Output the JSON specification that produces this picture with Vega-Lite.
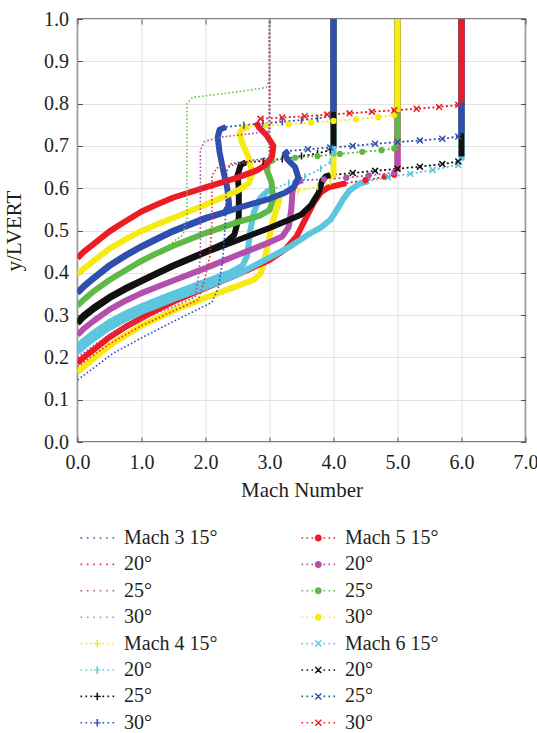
{
  "$schema": "https://vega.github.io/schema/vega-lite/v6.json",
  "width": 448,
  "height": 423,
  "autosize": {"type": "none"},
  "padding": {"left": 77.5, "top": 19, "right": 11.5, "bottom": 291},
  "background": "white",
  "config": {
    "font": "Liberation Serif",
    "view": {"stroke": "#555555", "strokeWidth": 1.5},
    "axis": {"labelFont": "Liberation Serif", "titleFont": "Liberation Serif", "labelColor": "#231f20", "titleColor": "#231f20", "tickColor": "#555555", "gridColor": "#e3e3e3", "domain": false, "labelFlush": false, "labelOverlap": false}
  },
  "data": {"values": [
    {"s":"Mach 4 15°","m":4,"p":"a","x":0,"y":0.165},{"s":"Mach 4 15°","m":4,"p":"a","x":0.1,"y":0.178},{"s":"Mach 4 15°","m":4,"p":"a","x":0.25,"y":0.197},{"s":"Mach 4 15°","m":4,"p":"a","x":0.5,"y":0.228},{"s":"Mach 4 15°","m":4,"p":"a","x":0.75,"y":0.252},{"s":"Mach 4 15°","m":4,"p":"a","x":1.0,"y":0.275},{"s":"Mach 4 15°","m":4,"p":"a","x":1.25,"y":0.293},{"s":"Mach 4 15°","m":4,"p":"a","x":1.5,"y":0.311},{"s":"Mach 4 15°","m":4,"p":"a","x":2.0,"y":0.341},{"s":"Mach 4 15°","m":4,"p":"a","x":2.5,"y":0.369},{"s":"Mach 4 15°","m":4,"p":"a","x":2.75,"y":0.383},{"s":"Mach 4 15°","m":4,"p":"a","x":2.86,"y":0.398},{"s":"Mach 4 15°","m":4,"p":"a","x":2.92,"y":0.425},{"s":"Mach 4 15°","m":4,"p":"a","x":2.96,"y":0.46},{"s":"Mach 4 15°","m":4,"p":"a","x":3.05,"y":0.52},{"s":"Mach 4 15°","m":4,"p":"a","x":3.13,"y":0.56},{"s":"Mach 4 15°","m":4,"p":"a","x":3.17,"y":0.585},
    {"s":"Mach 4 15°","m":4,"p":"s","x":3.45,"y":0.594},{"s":"Mach 4 15°","m":4,"p":"s","x":3.75,"y":0.604},{"s":"Mach 4 15°","m":4,"p":"s","x":3.95,"y":0.615},
    {"s":"Mach 4 15°","m":4,"p":"b","x":4.0,"y":0.625},{"s":"Mach 4 15°","m":4,"p":"b","x":4.0,"y":1.0},

    {"s":"Mach 5 15°","m":5,"p":"a","x":0,"y":0.187},{"s":"Mach 5 15°","m":5,"p":"a","x":0.1,"y":0.2},{"s":"Mach 5 15°","m":5,"p":"a","x":0.25,"y":0.218},{"s":"Mach 5 15°","m":5,"p":"a","x":0.5,"y":0.248},{"s":"Mach 5 15°","m":5,"p":"a","x":0.75,"y":0.272},{"s":"Mach 5 15°","m":5,"p":"a","x":1.0,"y":0.293},{"s":"Mach 5 15°","m":5,"p":"a","x":1.25,"y":0.313},{"s":"Mach 5 15°","m":5,"p":"a","x":1.5,"y":0.332},{"s":"Mach 5 15°","m":5,"p":"a","x":2.0,"y":0.364},{"s":"Mach 5 15°","m":5,"p":"a","x":2.5,"y":0.396},{"s":"Mach 5 15°","m":5,"p":"a","x":3.0,"y":0.43},{"s":"Mach 5 15°","m":5,"p":"a","x":3.25,"y":0.456},{"s":"Mach 5 15°","m":5,"p":"a","x":3.42,"y":0.485},{"s":"Mach 5 15°","m":5,"p":"a","x":3.58,"y":0.533},{"s":"Mach 5 15°","m":5,"p":"a","x":3.7,"y":0.568},{"s":"Mach 5 15°","m":5,"p":"a","x":3.8,"y":0.59},{"s":"Mach 5 15°","m":5,"p":"a","x":3.92,"y":0.602},{"s":"Mach 5 15°","m":5,"p":"a","x":4.2,"y":0.612},
    {"s":"Mach 5 15°","m":5,"p":"s","x":4.5,"y":0.619},{"s":"Mach 5 15°","m":5,"p":"s","x":4.8,"y":0.627},{"s":"Mach 5 15°","m":5,"p":"s","x":4.95,"y":0.632},
    {"s":"Mach 5 15°","m":5,"p":"b","x":5.0,"y":0.64},{"s":"Mach 5 15°","m":5,"p":"b","x":5.0,"y":1.0},

    {"s":"Mach 6 15°","m":6,"p":"a","x":0,"y":0.212},{"s":"Mach 6 15°","m":6,"p":"a","x":0.1,"y":0.226},{"s":"Mach 6 15°","m":6,"p":"a","x":0.25,"y":0.244},{"s":"Mach 6 15°","m":6,"p":"a","x":0.5,"y":0.27},{"s":"Mach 6 15°","m":6,"p":"a","x":0.75,"y":0.29},{"s":"Mach 6 15°","m":6,"p":"a","x":1.0,"y":0.308},{"s":"Mach 6 15°","m":6,"p":"a","x":1.25,"y":0.323},{"s":"Mach 6 15°","m":6,"p":"a","x":1.5,"y":0.338},{"s":"Mach 6 15°","m":6,"p":"a","x":2.0,"y":0.366},{"s":"Mach 6 15°","m":6,"p":"a","x":2.5,"y":0.396},{"s":"Mach 6 15°","m":6,"p":"a","x":3.0,"y":0.436},{"s":"Mach 6 15°","m":6,"p":"a","x":3.3,"y":0.46},{"s":"Mach 6 15°","m":6,"p":"a","x":3.6,"y":0.49},{"s":"Mach 6 15°","m":6,"p":"a","x":3.8,"y":0.507},{"s":"Mach 6 15°","m":6,"p":"a","x":3.95,"y":0.525},{"s":"Mach 6 15°","m":6,"p":"a","x":4.05,"y":0.548},{"s":"Mach 6 15°","m":6,"p":"a","x":4.15,"y":0.574},{"s":"Mach 6 15°","m":6,"p":"a","x":4.26,"y":0.596},{"s":"Mach 6 15°","m":6,"p":"a","x":4.4,"y":0.61},{"s":"Mach 6 15°","m":6,"p":"a","x":4.55,"y":0.617},
    {"s":"Mach 6 15°","m":6,"p":"s","x":4.85,"y":0.626},{"s":"Mach 6 15°","m":6,"p":"s","x":5.2,"y":0.634},{"s":"Mach 6 15°","m":6,"p":"s","x":5.55,"y":0.643},{"s":"Mach 6 15°","m":6,"p":"s","x":5.95,"y":0.655},
    {"s":"Mach 6 15°","m":6,"p":"b","x":6.0,"y":0.665},{"s":"Mach 6 15°","m":6,"p":"b","x":6.0,"y":1.0},

    {"s":"Mach 4 20°","m":4,"p":"a","x":0,"y":0.225},{"s":"Mach 4 20°","m":4,"p":"a","x":0.1,"y":0.24},{"s":"Mach 4 20°","m":4,"p":"a","x":0.25,"y":0.258},{"s":"Mach 4 20°","m":4,"p":"a","x":0.5,"y":0.284},{"s":"Mach 4 20°","m":4,"p":"a","x":0.75,"y":0.304},{"s":"Mach 4 20°","m":4,"p":"a","x":1.0,"y":0.321},{"s":"Mach 4 20°","m":4,"p":"a","x":1.25,"y":0.336},{"s":"Mach 4 20°","m":4,"p":"a","x":1.5,"y":0.351},{"s":"Mach 4 20°","m":4,"p":"a","x":2.0,"y":0.379},{"s":"Mach 4 20°","m":4,"p":"a","x":2.4,"y":0.402},{"s":"Mach 4 20°","m":4,"p":"a","x":2.58,"y":0.417},{"s":"Mach 4 20°","m":4,"p":"a","x":2.65,"y":0.44},{"s":"Mach 4 20°","m":4,"p":"a","x":2.7,"y":0.5},{"s":"Mach 4 20°","m":4,"p":"a","x":2.76,"y":0.545},{"s":"Mach 4 20°","m":4,"p":"a","x":2.85,"y":0.576},{"s":"Mach 4 20°","m":4,"p":"a","x":2.96,"y":0.592},{"s":"Mach 4 20°","m":4,"p":"a","x":3.05,"y":0.598},
    {"s":"Mach 4 20°","m":4,"p":"s","x":3.3,"y":0.612},{"s":"Mach 4 20°","m":4,"p":"s","x":3.55,"y":0.627},{"s":"Mach 4 20°","m":4,"p":"s","x":3.8,"y":0.646},{"s":"Mach 4 20°","m":4,"p":"s","x":3.95,"y":0.663},
    {"s":"Mach 4 20°","m":4,"p":"b","x":4.0,"y":0.675},{"s":"Mach 4 20°","m":4,"p":"b","x":4.0,"y":1.0},

    {"s":"Mach 5 20°","m":5,"p":"a","x":0,"y":0.253},{"s":"Mach 5 20°","m":5,"p":"a","x":0.1,"y":0.268},{"s":"Mach 5 20°","m":5,"p":"a","x":0.25,"y":0.286},{"s":"Mach 5 20°","m":5,"p":"a","x":0.5,"y":0.313},{"s":"Mach 5 20°","m":5,"p":"a","x":0.75,"y":0.334},{"s":"Mach 5 20°","m":5,"p":"a","x":1.0,"y":0.352},{"s":"Mach 5 20°","m":5,"p":"a","x":1.25,"y":0.367},{"s":"Mach 5 20°","m":5,"p":"a","x":1.5,"y":0.382},{"s":"Mach 5 20°","m":5,"p":"a","x":2.0,"y":0.411},{"s":"Mach 5 20°","m":5,"p":"a","x":2.5,"y":0.442},{"s":"Mach 5 20°","m":5,"p":"a","x":3.0,"y":0.472},{"s":"Mach 5 20°","m":5,"p":"a","x":3.2,"y":0.486},{"s":"Mach 5 20°","m":5,"p":"a","x":3.3,"y":0.508},{"s":"Mach 5 20°","m":5,"p":"a","x":3.34,"y":0.55},{"s":"Mach 5 20°","m":5,"p":"a","x":3.36,"y":0.595},{"s":"Mach 5 20°","m":5,"p":"a","x":3.41,"y":0.613},{"s":"Mach 5 20°","m":5,"p":"a","x":3.52,"y":0.619},
    {"s":"Mach 5 20°","m":5,"p":"s","x":3.85,"y":0.621},{"s":"Mach 5 20°","m":5,"p":"s","x":4.2,"y":0.625},{"s":"Mach 5 20°","m":5,"p":"s","x":4.55,"y":0.63},{"s":"Mach 5 20°","m":5,"p":"s","x":4.95,"y":0.637},
    {"s":"Mach 5 20°","m":5,"p":"b","x":5.0,"y":0.65},{"s":"Mach 5 20°","m":5,"p":"b","x":5.0,"y":1.0},

    {"s":"Mach 6 20°","m":6,"p":"a","x":0,"y":0.28},{"s":"Mach 6 20°","m":6,"p":"a","x":0.1,"y":0.296},{"s":"Mach 6 20°","m":6,"p":"a","x":0.25,"y":0.314},{"s":"Mach 6 20°","m":6,"p":"a","x":0.5,"y":0.34},{"s":"Mach 6 20°","m":6,"p":"a","x":0.75,"y":0.361},{"s":"Mach 6 20°","m":6,"p":"a","x":1.0,"y":0.38},{"s":"Mach 6 20°","m":6,"p":"a","x":1.25,"y":0.398},{"s":"Mach 6 20°","m":6,"p":"a","x":1.5,"y":0.416},{"s":"Mach 6 20°","m":6,"p":"a","x":2.0,"y":0.448},{"s":"Mach 6 20°","m":6,"p":"a","x":2.5,"y":0.477},{"s":"Mach 6 20°","m":6,"p":"a","x":3.0,"y":0.506},{"s":"Mach 6 20°","m":6,"p":"a","x":3.3,"y":0.525},{"s":"Mach 6 20°","m":6,"p":"a","x":3.5,"y":0.538},{"s":"Mach 6 20°","m":6,"p":"a","x":3.65,"y":0.56},{"s":"Mach 6 20°","m":6,"p":"a","x":3.77,"y":0.59},{"s":"Mach 6 20°","m":6,"p":"a","x":3.82,"y":0.617},{"s":"Mach 6 20°","m":6,"p":"a","x":3.88,"y":0.628},{"s":"Mach 6 20°","m":6,"p":"a","x":3.95,"y":0.631},
    {"s":"Mach 6 20°","m":6,"p":"s","x":4.3,"y":0.636},{"s":"Mach 6 20°","m":6,"p":"s","x":4.65,"y":0.641},{"s":"Mach 6 20°","m":6,"p":"s","x":5.0,"y":0.646},{"s":"Mach 6 20°","m":6,"p":"s","x":5.35,"y":0.651},{"s":"Mach 6 20°","m":6,"p":"s","x":5.7,"y":0.657},{"s":"Mach 6 20°","m":6,"p":"s","x":5.95,"y":0.663},
    {"s":"Mach 6 20°","m":6,"p":"b","x":6.0,"y":0.675},{"s":"Mach 6 20°","m":6,"p":"b","x":6.0,"y":1.0},

    {"s":"Mach 4 25°","m":4,"p":"a","x":0,"y":0.284},{"s":"Mach 4 25°","m":4,"p":"a","x":0.1,"y":0.3},{"s":"Mach 4 25°","m":4,"p":"a","x":0.25,"y":0.318},{"s":"Mach 4 25°","m":4,"p":"a","x":0.5,"y":0.343},{"s":"Mach 4 25°","m":4,"p":"a","x":0.75,"y":0.364},{"s":"Mach 4 25°","m":4,"p":"a","x":1.0,"y":0.382},{"s":"Mach 4 25°","m":4,"p":"a","x":1.25,"y":0.4},{"s":"Mach 4 25°","m":4,"p":"a","x":1.5,"y":0.418},{"s":"Mach 4 25°","m":4,"p":"a","x":2.0,"y":0.45},{"s":"Mach 4 25°","m":4,"p":"a","x":2.3,"y":0.47},{"s":"Mach 4 25°","m":4,"p":"a","x":2.45,"y":0.49},{"s":"Mach 4 25°","m":4,"p":"a","x":2.52,"y":0.53},{"s":"Mach 4 25°","m":4,"p":"a","x":2.52,"y":0.6},{"s":"Mach 4 25°","m":4,"p":"a","x":2.5,"y":0.63},{"s":"Mach 4 25°","m":4,"p":"a","x":2.55,"y":0.655},{"s":"Mach 4 25°","m":4,"p":"a","x":2.63,"y":0.661},
    {"s":"Mach 4 25°","m":4,"p":"s","x":2.9,"y":0.664},{"s":"Mach 4 25°","m":4,"p":"s","x":3.2,"y":0.669},{"s":"Mach 4 25°","m":4,"p":"s","x":3.5,"y":0.676},{"s":"Mach 4 25°","m":4,"p":"s","x":3.75,"y":0.682},{"s":"Mach 4 25°","m":4,"p":"s","x":3.95,"y":0.69},
    {"s":"Mach 4 25°","m":4,"p":"b","x":4.0,"y":0.7},{"s":"Mach 4 25°","m":4,"p":"b","x":4.0,"y":1.0},

    {"s":"Mach 5 25°","m":5,"p":"a","x":0,"y":0.322},{"s":"Mach 5 25°","m":5,"p":"a","x":0.1,"y":0.337},{"s":"Mach 5 25°","m":5,"p":"a","x":0.25,"y":0.356},{"s":"Mach 5 25°","m":5,"p":"a","x":0.5,"y":0.383},{"s":"Mach 5 25°","m":5,"p":"a","x":0.75,"y":0.406},{"s":"Mach 5 25°","m":5,"p":"a","x":1.0,"y":0.428},{"s":"Mach 5 25°","m":5,"p":"a","x":1.25,"y":0.447},{"s":"Mach 5 25°","m":5,"p":"a","x":1.5,"y":0.464},{"s":"Mach 5 25°","m":5,"p":"a","x":2.0,"y":0.494},{"s":"Mach 5 25°","m":5,"p":"a","x":2.5,"y":0.52},{"s":"Mach 5 25°","m":5,"p":"a","x":2.85,"y":0.535},{"s":"Mach 5 25°","m":5,"p":"a","x":3.0,"y":0.548},{"s":"Mach 5 25°","m":5,"p":"a","x":3.06,"y":0.575},{"s":"Mach 5 25°","m":5,"p":"a","x":3.03,"y":0.615},{"s":"Mach 5 25°","m":5,"p":"a","x":2.96,"y":0.642},{"s":"Mach 5 25°","m":5,"p":"a","x":2.97,"y":0.661},{"s":"Mach 5 25°","m":5,"p":"a","x":3.08,"y":0.668},
    {"s":"Mach 5 25°","m":5,"p":"s","x":3.4,"y":0.672},{"s":"Mach 5 25°","m":5,"p":"s","x":3.75,"y":0.676},{"s":"Mach 5 25°","m":5,"p":"s","x":4.1,"y":0.681},{"s":"Mach 5 25°","m":5,"p":"s","x":4.45,"y":0.686},{"s":"Mach 5 25°","m":5,"p":"s","x":4.75,"y":0.69},{"s":"Mach 5 25°","m":5,"p":"s","x":4.95,"y":0.694},
    {"s":"Mach 5 25°","m":5,"p":"b","x":5.0,"y":0.7},{"s":"Mach 5 25°","m":5,"p":"b","x":5.0,"y":1.0},

    {"s":"Mach 6 25°","m":6,"p":"a","x":0,"y":0.352},{"s":"Mach 6 25°","m":6,"p":"a","x":0.1,"y":0.367},{"s":"Mach 6 25°","m":6,"p":"a","x":0.25,"y":0.386},{"s":"Mach 6 25°","m":6,"p":"a","x":0.5,"y":0.416},{"s":"Mach 6 25°","m":6,"p":"a","x":0.75,"y":0.44},{"s":"Mach 6 25°","m":6,"p":"a","x":1.0,"y":0.461},{"s":"Mach 6 25°","m":6,"p":"a","x":1.25,"y":0.48},{"s":"Mach 6 25°","m":6,"p":"a","x":1.5,"y":0.498},{"s":"Mach 6 25°","m":6,"p":"a","x":2.0,"y":0.528},{"s":"Mach 6 25°","m":6,"p":"a","x":2.5,"y":0.553},{"s":"Mach 6 25°","m":6,"p":"a","x":3.0,"y":0.575},{"s":"Mach 6 25°","m":6,"p":"a","x":3.25,"y":0.59},{"s":"Mach 6 25°","m":6,"p":"a","x":3.38,"y":0.603},{"s":"Mach 6 25°","m":6,"p":"a","x":3.45,"y":0.625},{"s":"Mach 6 25°","m":6,"p":"a","x":3.4,"y":0.65},{"s":"Mach 6 25°","m":6,"p":"a","x":3.28,"y":0.668},{"s":"Mach 6 25°","m":6,"p":"a","x":3.24,"y":0.681},{"s":"Mach 6 25°","m":6,"p":"a","x":3.3,"y":0.688},
    {"s":"Mach 6 25°","m":6,"p":"s","x":3.6,"y":0.692},{"s":"Mach 6 25°","m":6,"p":"s","x":3.95,"y":0.696},{"s":"Mach 6 25°","m":6,"p":"s","x":4.3,"y":0.7},{"s":"Mach 6 25°","m":6,"p":"s","x":4.65,"y":0.705},{"s":"Mach 6 25°","m":6,"p":"s","x":5.0,"y":0.709},{"s":"Mach 6 25°","m":6,"p":"s","x":5.35,"y":0.713},{"s":"Mach 6 25°","m":6,"p":"s","x":5.7,"y":0.717},{"s":"Mach 6 25°","m":6,"p":"s","x":5.95,"y":0.722},
    {"s":"Mach 6 25°","m":6,"p":"b","x":6.0,"y":0.73},{"s":"Mach 6 25°","m":6,"p":"b","x":6.0,"y":1.0},

    {"s":"Mach 4 30°","m":4,"p":"a","x":0,"y":0.354},{"s":"Mach 4 30°","m":4,"p":"a","x":0.1,"y":0.369},{"s":"Mach 4 30°","m":4,"p":"a","x":0.25,"y":0.388},{"s":"Mach 4 30°","m":4,"p":"a","x":0.5,"y":0.418},{"s":"Mach 4 30°","m":4,"p":"a","x":0.75,"y":0.442},{"s":"Mach 4 30°","m":4,"p":"a","x":1.0,"y":0.463},{"s":"Mach 4 30°","m":4,"p":"a","x":1.25,"y":0.482},{"s":"Mach 4 30°","m":4,"p":"a","x":1.5,"y":0.5},{"s":"Mach 4 30°","m":4,"p":"a","x":2.0,"y":0.53},{"s":"Mach 4 30°","m":4,"p":"a","x":2.3,"y":0.543},{"s":"Mach 4 30°","m":4,"p":"a","x":2.37,"y":0.56},{"s":"Mach 4 30°","m":4,"p":"a","x":2.34,"y":0.6},{"s":"Mach 4 30°","m":4,"p":"a","x":2.28,"y":0.64},{"s":"Mach 4 30°","m":4,"p":"a","x":2.22,"y":0.685},{"s":"Mach 4 30°","m":4,"p":"a","x":2.19,"y":0.72},{"s":"Mach 4 30°","m":4,"p":"a","x":2.22,"y":0.738},{"s":"Mach 4 30°","m":4,"p":"a","x":2.32,"y":0.745},
    {"s":"Mach 4 30°","m":4,"p":"s","x":2.6,"y":0.749},{"s":"Mach 4 30°","m":4,"p":"s","x":2.9,"y":0.753},{"s":"Mach 4 30°","m":4,"p":"s","x":3.2,"y":0.757},{"s":"Mach 4 30°","m":4,"p":"s","x":3.5,"y":0.761},{"s":"Mach 4 30°","m":4,"p":"s","x":3.75,"y":0.765},{"s":"Mach 4 30°","m":4,"p":"s","x":3.95,"y":0.77},
    {"s":"Mach 4 30°","m":4,"p":"b","x":4.0,"y":0.78},{"s":"Mach 4 30°","m":4,"p":"b","x":4.0,"y":1.0},

    {"s":"Mach 5 30°","m":5,"p":"a","x":0,"y":0.397},{"s":"Mach 5 30°","m":5,"p":"a","x":0.1,"y":0.41},{"s":"Mach 5 30°","m":5,"p":"a","x":0.25,"y":0.428},{"s":"Mach 5 30°","m":5,"p":"a","x":0.5,"y":0.457},{"s":"Mach 5 30°","m":5,"p":"a","x":0.75,"y":0.479},{"s":"Mach 5 30°","m":5,"p":"a","x":1.0,"y":0.499},{"s":"Mach 5 30°","m":5,"p":"a","x":1.25,"y":0.515},{"s":"Mach 5 30°","m":5,"p":"a","x":1.5,"y":0.53},{"s":"Mach 5 30°","m":5,"p":"a","x":2.0,"y":0.561},{"s":"Mach 5 30°","m":5,"p":"a","x":2.5,"y":0.594},{"s":"Mach 5 30°","m":5,"p":"a","x":2.68,"y":0.612},{"s":"Mach 5 30°","m":5,"p":"a","x":2.73,"y":0.635},{"s":"Mach 5 30°","m":5,"p":"a","x":2.68,"y":0.67},{"s":"Mach 5 30°","m":5,"p":"a","x":2.58,"y":0.705},{"s":"Mach 5 30°","m":5,"p":"a","x":2.53,"y":0.728},{"s":"Mach 5 30°","m":5,"p":"a","x":2.58,"y":0.741},{"s":"Mach 5 30°","m":5,"p":"a","x":2.68,"y":0.745},
    {"s":"Mach 5 30°","m":5,"p":"s","x":2.95,"y":0.748},{"s":"Mach 5 30°","m":5,"p":"s","x":3.3,"y":0.751},{"s":"Mach 5 30°","m":5,"p":"s","x":3.65,"y":0.755},{"s":"Mach 5 30°","m":5,"p":"s","x":4.0,"y":0.759},{"s":"Mach 5 30°","m":5,"p":"s","x":4.35,"y":0.763},{"s":"Mach 5 30°","m":5,"p":"s","x":4.7,"y":0.768},{"s":"Mach 5 30°","m":5,"p":"s","x":4.95,"y":0.773},
    {"s":"Mach 5 30°","m":5,"p":"b","x":5.0,"y":0.78},{"s":"Mach 5 30°","m":5,"p":"b","x":5.0,"y":1.0},

    {"s":"Mach 6 30°","m":6,"p":"a","x":0,"y":0.435},{"s":"Mach 6 30°","m":6,"p":"a","x":0.1,"y":0.45},{"s":"Mach 6 30°","m":6,"p":"a","x":0.25,"y":0.468},{"s":"Mach 6 30°","m":6,"p":"a","x":0.5,"y":0.498},{"s":"Mach 6 30°","m":6,"p":"a","x":0.75,"y":0.522},{"s":"Mach 6 30°","m":6,"p":"a","x":1.0,"y":0.545},{"s":"Mach 6 30°","m":6,"p":"a","x":1.25,"y":0.562},{"s":"Mach 6 30°","m":6,"p":"a","x":1.5,"y":0.578},{"s":"Mach 6 30°","m":6,"p":"a","x":2.0,"y":0.602},{"s":"Mach 6 30°","m":6,"p":"a","x":2.5,"y":0.625},{"s":"Mach 6 30°","m":6,"p":"a","x":2.8,"y":0.642},{"s":"Mach 6 30°","m":6,"p":"a","x":2.95,"y":0.656},{"s":"Mach 6 30°","m":6,"p":"a","x":3.04,"y":0.675},{"s":"Mach 6 30°","m":6,"p":"a","x":3.06,"y":0.7},{"s":"Mach 6 30°","m":6,"p":"a","x":2.96,"y":0.724},{"s":"Mach 6 30°","m":6,"p":"a","x":2.84,"y":0.743},{"s":"Mach 6 30°","m":6,"p":"a","x":2.79,"y":0.756},
    {"s":"Mach 6 30°","m":6,"p":"s","x":2.86,"y":0.764},{"s":"Mach 6 30°","m":6,"p":"s","x":3.2,"y":0.767},{"s":"Mach 6 30°","m":6,"p":"s","x":3.55,"y":0.77},{"s":"Mach 6 30°","m":6,"p":"s","x":3.9,"y":0.774},{"s":"Mach 6 30°","m":6,"p":"s","x":4.25,"y":0.777},{"s":"Mach 6 30°","m":6,"p":"s","x":4.6,"y":0.781},{"s":"Mach 6 30°","m":6,"p":"s","x":4.95,"y":0.784},{"s":"Mach 6 30°","m":6,"p":"s","x":5.3,"y":0.788},{"s":"Mach 6 30°","m":6,"p":"s","x":5.65,"y":0.792},{"s":"Mach 6 30°","m":6,"p":"s","x":5.95,"y":0.797},
    {"s":"Mach 6 30°","m":6,"p":"b","x":6.0,"y":0.803},{"s":"Mach 6 30°","m":6,"p":"b","x":6.0,"y":1.0},

    {"s":"Mach 3 15°","m":3,"p":"a","x":0,"y":0.147},{"s":"Mach 3 15°","m":3,"p":"a","x":0.1,"y":0.158},{"s":"Mach 3 15°","m":3,"p":"a","x":0.25,"y":0.175},{"s":"Mach 3 15°","m":3,"p":"a","x":0.56,"y":0.21},{"s":"Mach 3 15°","m":3,"p":"a","x":1.0,"y":0.246},{"s":"Mach 3 15°","m":3,"p":"a","x":1.5,"y":0.285},{"s":"Mach 3 15°","m":3,"p":"a","x":1.9,"y":0.315},{"s":"Mach 3 15°","m":3,"p":"a","x":2.1,"y":0.33},{"s":"Mach 3 15°","m":3,"p":"a","x":2.2,"y":0.365},{"s":"Mach 3 15°","m":3,"p":"a","x":2.27,"y":0.43},{"s":"Mach 3 15°","m":3,"p":"a","x":2.31,"y":0.52},{"s":"Mach 3 15°","m":3,"p":"a","x":2.33,"y":0.64},{"s":"Mach 3 15°","m":3,"p":"a","x":2.4,"y":0.658},{"s":"Mach 3 15°","m":3,"p":"a","x":2.7,"y":0.665},{"s":"Mach 3 15°","m":3,"p":"a","x":3.0,"y":0.672},{"s":"Mach 3 15°","m":3,"p":"a","x":3.0,"y":1.0},
    {"s":"Mach 3 20°","m":3,"p":"a","x":0,"y":0.178},{"s":"Mach 3 20°","m":3,"p":"a","x":0.25,"y":0.205},{"s":"Mach 3 20°","m":3,"p":"a","x":0.5,"y":0.232},{"s":"Mach 3 20°","m":3,"p":"a","x":1.0,"y":0.275},{"s":"Mach 3 20°","m":3,"p":"a","x":1.5,"y":0.31},{"s":"Mach 3 20°","m":3,"p":"a","x":1.89,"y":0.336},{"s":"Mach 3 20°","m":3,"p":"a","x":1.98,"y":0.38},{"s":"Mach 3 20°","m":3,"p":"a","x":2.07,"y":0.44},{"s":"Mach 3 20°","m":3,"p":"a","x":2.1,"y":0.52},{"s":"Mach 3 20°","m":3,"p":"a","x":2.1,"y":0.63},{"s":"Mach 3 20°","m":3,"p":"a","x":2.18,"y":0.648},{"s":"Mach 3 20°","m":3,"p":"a","x":2.6,"y":0.66},{"s":"Mach 3 20°","m":3,"p":"a","x":3.0,"y":0.668},{"s":"Mach 3 20°","m":3,"p":"a","x":3.0,"y":1.0},
    {"s":"Mach 3 25°","m":3,"p":"a","x":0,"y":0.2},{"s":"Mach 3 25°","m":3,"p":"a","x":0.25,"y":0.228},{"s":"Mach 3 25°","m":3,"p":"a","x":0.5,"y":0.254},{"s":"Mach 3 25°","m":3,"p":"a","x":1.0,"y":0.29},{"s":"Mach 3 25°","m":3,"p":"a","x":1.5,"y":0.32},{"s":"Mach 3 25°","m":3,"p":"a","x":1.84,"y":0.343},{"s":"Mach 3 25°","m":3,"p":"a","x":1.9,"y":0.4},{"s":"Mach 3 25°","m":3,"p":"a","x":1.92,"y":0.45},{"s":"Mach 3 25°","m":3,"p":"a","x":1.92,"y":0.69},{"s":"Mach 3 25°","m":3,"p":"a","x":1.98,"y":0.71},{"s":"Mach 3 25°","m":3,"p":"a","x":2.2,"y":0.72},{"s":"Mach 3 25°","m":3,"p":"a","x":2.6,"y":0.727},{"s":"Mach 3 25°","m":3,"p":"a","x":3.0,"y":0.735},{"s":"Mach 3 25°","m":3,"p":"a","x":3.0,"y":1.0},
    {"s":"Mach 3 30°","m":3,"p":"a","x":0,"y":0.32},{"s":"Mach 3 30°","m":3,"p":"a","x":0.25,"y":0.35},{"s":"Mach 3 30°","m":3,"p":"a","x":0.5,"y":0.378},{"s":"Mach 3 30°","m":3,"p":"a","x":1.0,"y":0.43},{"s":"Mach 3 30°","m":3,"p":"a","x":1.4,"y":0.463},{"s":"Mach 3 30°","m":3,"p":"a","x":1.65,"y":0.49},{"s":"Mach 3 30°","m":3,"p":"a","x":1.71,"y":0.53},{"s":"Mach 3 30°","m":3,"p":"a","x":1.71,"y":0.8},{"s":"Mach 3 30°","m":3,"p":"a","x":1.8,"y":0.815},{"s":"Mach 3 30°","m":3,"p":"a","x":2.2,"y":0.822},{"s":"Mach 3 30°","m":3,"p":"a","x":2.6,"y":0.83},{"s":"Mach 3 30°","m":3,"p":"a","x":2.95,"y":0.838},{"s":"Mach 3 30°","m":3,"p":"a","x":3.0,"y":0.858},{"s":"Mach 3 30°","m":3,"p":"a","x":3.0,"y":1.0}
  ]},
  "layer": [
    {
      "transform": [{"filter": "datum.m > 10"}],
      "mark": {"type": "point", "filled": true, "opacity": 1, "strokeWidth": 0},
      "encoding": {
        "x": {"field": "x", "type": "quantitative", "scale": {"domain": [0, 7], "nice": false, "zero": false}, "axis": {"orient": "top", "values": [0,1,2,3,4,5,6,7], "labels": false, "tickSize": -5, "grid": false, "title": null}},
        "y": {"field": "y", "type": "quantitative", "scale": {"domain": [0, 1], "nice": false, "zero": false}, "axis": {"orient": "right", "values": [0,0.1,0.2,0.3,0.4,0.5,0.6,0.7,0.8,0.9,1.0], "labels": false, "tickSize": -5, "grid": false, "title": null}},
        "color": {"field": "s", "type": "nominal",
          "scale": {
            "domain": ["Mach 3 15°","Mach 3 20°","Mach 3 25°","Mach 3 30°","Mach 4 15°","Mach 4 20°","Mach 4 25°","Mach 4 30°","Mach 5 15°","Mach 5 20°","Mach 5 25°","Mach 5 30°","Mach 6 15°","Mach 6 20°","Mach 6 25°","Mach 6 30°"],
            "range": ["#3a4fb8","#ee3333","#b04ca8","#6cc04a","#f7ea10","#5cc6de","#111111","#2f4fae","#ed1c24","#b44fae","#5cb946","#f7ea10","#5cc6de","#111111","#2f4fae","#ed1c24"]
          },
          "legend": {"orient": "none", "legendX": 0.8, "legendY": 509, "columns": 2, "title": null, "symbolSize": 100, "symbolOffset": 9, "labelOffset": 16.7, "labelFontSize": 20, "labelFont": "Liberation Serif", "labelColor": "#231f20", "labelLimit": 0, "rowPadding": 6.4, "columnPadding": 81, "symbolStrokeWidth": 0, "padding": 0, "offset": 0,
            "labelExpr": "indexof(['Mach 3 15°','Mach 4 15°','Mach 5 15°','Mach 6 15°'], datum.label) >= 0 ? datum.label : slice(datum.label, 7)"}
        },
        "shape": {"field": "s", "type": "nominal",
          "legend": {"orient": "none", "legendX": 0.8, "legendY": 509, "columns": 2, "title": null, "symbolSize": 100, "symbolOffset": 9, "labelOffset": 16.7, "labelFontSize": 20, "labelFont": "Liberation Serif", "labelColor": "#231f20", "labelLimit": 0, "rowPadding": 6.4, "columnPadding": 81, "symbolStrokeWidth": 0, "padding": 0, "offset": 0,
            "labelExpr": "indexof(['Mach 3 15°','Mach 4 15°','Mach 5 15°','Mach 6 15°'], datum.label) >= 0 ? datum.label : slice(datum.label, 7)"},
          "scale": {
            "domain": ["Mach 3 15°","Mach 3 20°","Mach 3 25°","Mach 3 30°","Mach 4 15°","Mach 4 20°","Mach 4 25°","Mach 4 30°","Mach 5 15°","Mach 5 20°","Mach 5 25°","Mach 5 30°","Mach 6 15°","Mach 6 20°","Mach 6 25°","Mach 6 30°"],
            "range": [
              "M-3.36,-0.16h0.32v0.32h-0.32Z M-2.08,-0.16h0.32v0.32h-0.32Z M-0.8,-0.16h0.32v0.32h-0.32Z M0.48,-0.16h0.32v0.32h-0.32Z M1.76,-0.16h0.32v0.32h-0.32Z M3.04,-0.16h0.32v0.32h-0.32Z",
              "M-3.36,-0.16h0.32v0.32h-0.32Z M-2.08,-0.16h0.32v0.32h-0.32Z M-0.8,-0.16h0.32v0.32h-0.32Z M0.48,-0.16h0.32v0.32h-0.32Z M1.76,-0.16h0.32v0.32h-0.32Z M3.04,-0.16h0.32v0.32h-0.32Z",
              "M-3.36,-0.16h0.32v0.32h-0.32Z M-2.08,-0.16h0.32v0.32h-0.32Z M-0.8,-0.16h0.32v0.32h-0.32Z M0.48,-0.16h0.32v0.32h-0.32Z M1.76,-0.16h0.32v0.32h-0.32Z M3.04,-0.16h0.32v0.32h-0.32Z",
              "M-3.36,-0.16h0.32v0.32h-0.32Z M-2.08,-0.16h0.32v0.32h-0.32Z M-0.8,-0.16h0.32v0.32h-0.32Z M0.48,-0.16h0.32v0.32h-0.32Z M1.76,-0.16h0.32v0.32h-0.32Z M3.04,-0.16h0.32v0.32h-0.32Z",
              "M-3.36,-0.16h0.32v0.32h-0.32Z M-2.36,-0.16h0.32v0.32h-0.32Z M-1.36,-0.16h0.32v0.32h-0.32Z M1.04,-0.16h0.32v0.32h-0.32Z M2.04,-0.16h0.32v0.32h-0.32Z M3.04,-0.16h0.32v0.32h-0.32Z M-0.16,-0.75h0.32v1.5h-0.32Z M-0.7,-0.12h1.4v0.24h-1.4Z",
              "M-3.36,-0.16h0.32v0.32h-0.32Z M-2.36,-0.16h0.32v0.32h-0.32Z M-1.36,-0.16h0.32v0.32h-0.32Z M1.04,-0.16h0.32v0.32h-0.32Z M2.04,-0.16h0.32v0.32h-0.32Z M3.04,-0.16h0.32v0.32h-0.32Z M-0.16,-0.75h0.32v1.5h-0.32Z M-0.7,-0.12h1.4v0.24h-1.4Z",
              "M-3.36,-0.16h0.32v0.32h-0.32Z M-2.36,-0.16h0.32v0.32h-0.32Z M-1.36,-0.16h0.32v0.32h-0.32Z M1.04,-0.16h0.32v0.32h-0.32Z M2.04,-0.16h0.32v0.32h-0.32Z M3.04,-0.16h0.32v0.32h-0.32Z M-0.16,-0.75h0.32v1.5h-0.32Z M-0.7,-0.12h1.4v0.24h-1.4Z",
              "M-3.36,-0.16h0.32v0.32h-0.32Z M-2.36,-0.16h0.32v0.32h-0.32Z M-1.36,-0.16h0.32v0.32h-0.32Z M1.04,-0.16h0.32v0.32h-0.32Z M2.04,-0.16h0.32v0.32h-0.32Z M3.04,-0.16h0.32v0.32h-0.32Z M-0.16,-0.75h0.32v1.5h-0.32Z M-0.7,-0.12h1.4v0.24h-1.4Z",
              "M-3.36,-0.16h0.32v0.32h-0.32Z M-2.36,-0.16h0.32v0.32h-0.32Z M-1.36,-0.16h0.32v0.32h-0.32Z M1.04,-0.16h0.32v0.32h-0.32Z M2.04,-0.16h0.32v0.32h-0.32Z M3.04,-0.16h0.32v0.32h-0.32Z M0.7,0A0.7,0.7,0,1,1,-0.7,0A0.7,0.7,0,1,1,0.7,0Z",
              "M-3.36,-0.16h0.32v0.32h-0.32Z M-2.36,-0.16h0.32v0.32h-0.32Z M-1.36,-0.16h0.32v0.32h-0.32Z M1.04,-0.16h0.32v0.32h-0.32Z M2.04,-0.16h0.32v0.32h-0.32Z M3.04,-0.16h0.32v0.32h-0.32Z M0.7,0A0.7,0.7,0,1,1,-0.7,0A0.7,0.7,0,1,1,0.7,0Z",
              "M-3.36,-0.16h0.32v0.32h-0.32Z M-2.36,-0.16h0.32v0.32h-0.32Z M-1.36,-0.16h0.32v0.32h-0.32Z M1.04,-0.16h0.32v0.32h-0.32Z M2.04,-0.16h0.32v0.32h-0.32Z M3.04,-0.16h0.32v0.32h-0.32Z M0.7,0A0.7,0.7,0,1,1,-0.7,0A0.7,0.7,0,1,1,0.7,0Z",
              "M-3.36,-0.16h0.32v0.32h-0.32Z M-2.36,-0.16h0.32v0.32h-0.32Z M-1.36,-0.16h0.32v0.32h-0.32Z M1.04,-0.16h0.32v0.32h-0.32Z M2.04,-0.16h0.32v0.32h-0.32Z M3.04,-0.16h0.32v0.32h-0.32Z M0.7,0A0.7,0.7,0,1,1,-0.7,0A0.7,0.7,0,1,1,0.7,0Z",
              "M-3.36,-0.16h0.32v0.32h-0.32Z M-2.36,-0.16h0.32v0.32h-0.32Z M-1.36,-0.16h0.32v0.32h-0.32Z M1.04,-0.16h0.32v0.32h-0.32Z M2.04,-0.16h0.32v0.32h-0.32Z M3.04,-0.16h0.32v0.32h-0.32Z M-0.7,-0.5L-0.5,-0.7L0.7,0.5L0.5,0.7Z M0.5,-0.7L0.7,-0.5L-0.5,0.7L-0.7,0.5Z",
              "M-3.36,-0.16h0.32v0.32h-0.32Z M-2.36,-0.16h0.32v0.32h-0.32Z M-1.36,-0.16h0.32v0.32h-0.32Z M1.04,-0.16h0.32v0.32h-0.32Z M2.04,-0.16h0.32v0.32h-0.32Z M3.04,-0.16h0.32v0.32h-0.32Z M-0.7,-0.5L-0.5,-0.7L0.7,0.5L0.5,0.7Z M0.5,-0.7L0.7,-0.5L-0.5,0.7L-0.7,0.5Z",
              "M-3.36,-0.16h0.32v0.32h-0.32Z M-2.36,-0.16h0.32v0.32h-0.32Z M-1.36,-0.16h0.32v0.32h-0.32Z M1.04,-0.16h0.32v0.32h-0.32Z M2.04,-0.16h0.32v0.32h-0.32Z M3.04,-0.16h0.32v0.32h-0.32Z M-0.7,-0.5L-0.5,-0.7L0.7,0.5L0.5,0.7Z M0.5,-0.7L0.7,-0.5L-0.5,0.7L-0.7,0.5Z",
              "M-3.36,-0.16h0.32v0.32h-0.32Z M-2.36,-0.16h0.32v0.32h-0.32Z M-1.36,-0.16h0.32v0.32h-0.32Z M1.04,-0.16h0.32v0.32h-0.32Z M2.04,-0.16h0.32v0.32h-0.32Z M3.04,-0.16h0.32v0.32h-0.32Z M-0.7,-0.5L-0.5,-0.7L0.7,0.5L0.5,0.7Z M0.5,-0.7L0.7,-0.5L-0.5,0.7L-0.7,0.5Z"
            ]
          }
        }
      }
    },
    {
      "transform": [{"filter": "datum.m > 3"}],
      "mark": {"type": "line", "strokeWidth": 1.8, "strokeDash": [2, 2.5], "clip": true},
      "encoding": {
        "x": {"field": "x", "type": "quantitative",
          "axis": {"orient": "bottom", "values": [0,1,2,3,4,5,6,7], "format": ".1f", "labelFontSize": 20, "labelPadding": 15, "tickSize": -5, "title": "Mach Number", "titleFontSize": 21, "titleFontWeight": "normal", "titlePadding": 7, "grid": true}},
        "y": {"field": "y", "type": "quantitative",
          "axis": {"orient": "left", "values": [0,0.1,0.2,0.3,0.4,0.5,0.6,0.7,0.8,0.9,1.0], "format": ".1f", "labelFontSize": 20, "labelPadding": 14, "tickSize": -5, "title": "y/LVERT", "titleFontSize": 21, "titleFontWeight": "normal", "titlePadding": 19, "grid": true}},
        "color": {"field": "s", "type": "nominal", "legend": null},
        "order": {"value": null}
      }
    },
    {
      "transform": [{"filter": "datum.m > 3 && datum.p != 's'"}],
      "mark": {"type": "line", "strokeWidth": 6, "strokeJoin": "round", "clip": true},
      "encoding": {
        "x": {"field": "x", "type": "quantitative", "axis": null},
        "y": {"field": "y", "type": "quantitative", "axis": null},
        "color": {"field": "s", "type": "nominal", "legend": null},
        "detail": {"field": "p"},
        "order": {"value": null}
      }
    },
    {
      "transform": [{"filter": "datum.m == 4 && datum.p == 's'"}],
      "mark": {"type": "point", "filled": true, "opacity": 1, "strokeWidth": 0, "size": 49, "shape": "M-0.22,-1h0.44v2h-0.44Z", "clip": true},
      "encoding": {
        "x": {"field": "x", "type": "quantitative", "axis": null},
        "y": {"field": "y", "type": "quantitative", "axis": null},
        "color": {"field": "s", "type": "nominal", "legend": null}
      }
    },
    {
      "transform": [{"filter": "datum.m == 5 && datum.p == 's'"}],
      "mark": {"type": "point", "filled": true, "opacity": 1, "strokeWidth": 0, "size": 38, "shape": "circle", "clip": true},
      "encoding": {
        "x": {"field": "x", "type": "quantitative", "axis": null},
        "y": {"field": "y", "type": "quantitative", "axis": null},
        "color": {"field": "s", "type": "nominal", "legend": null}
      }
    },
    {
      "transform": [{"filter": "datum.m == 6 && datum.p == 's'"}],
      "mark": {"type": "point", "filled": true, "opacity": 1, "strokeWidth": 0, "size": 49, "shape": "M-1,-0.7L-0.7,-1L1,0.7L0.7,1Z M0.7,-1L1,-0.7L-0.7,1L-1,0.7Z", "clip": true},
      "encoding": {
        "x": {"field": "x", "type": "quantitative", "axis": null},
        "y": {"field": "y", "type": "quantitative", "axis": null},
        "color": {"field": "s", "type": "nominal", "legend": null}
      }
    },
    {
      "transform": [{"filter": "datum.m == 3"}],
      "mark": {"type": "line", "strokeWidth": 1.6, "strokeDash": [1.6, 2.2], "clip": true},
      "encoding": {
        "x": {"field": "x", "type": "quantitative", "axis": null},
        "y": {"field": "y", "type": "quantitative", "axis": null},
        "color": {"field": "s", "type": "nominal", "legend": null},
        "order": {"value": null}
      }
    }
  ]
}
